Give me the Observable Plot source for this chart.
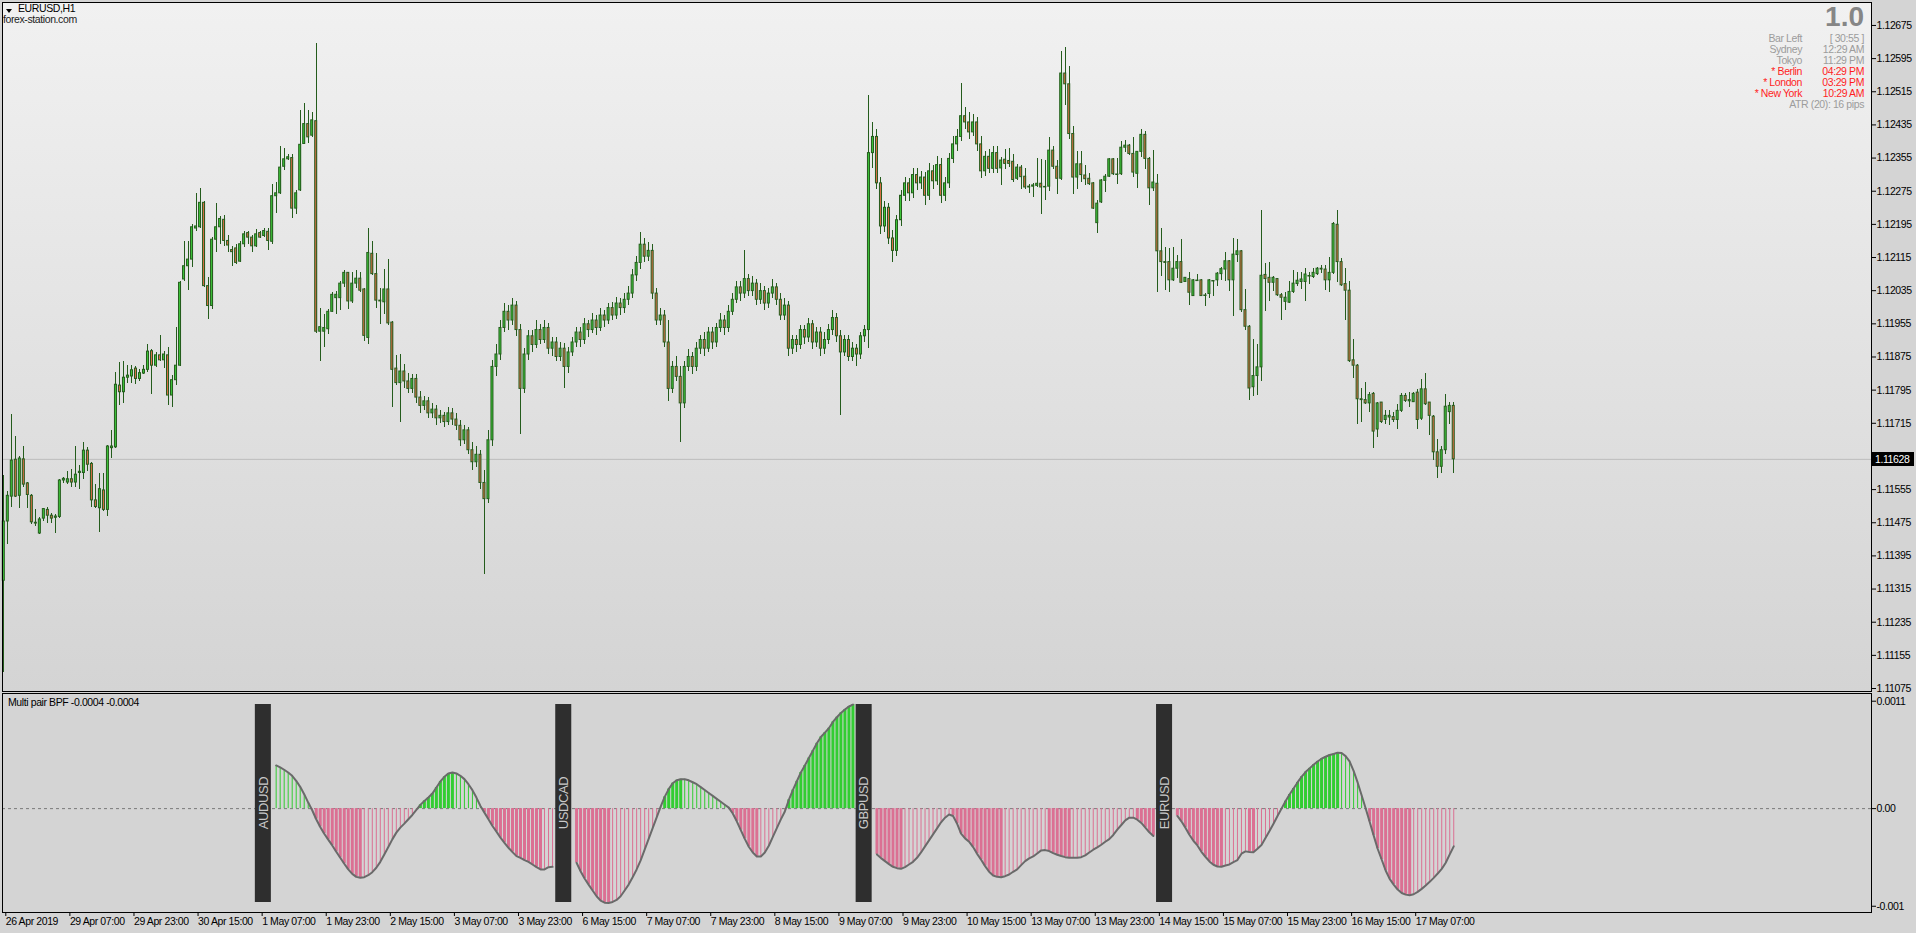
<!DOCTYPE html>
<html><head><meta charset="utf-8">
<script src="https://cdn.jsdelivr.net/npm/d3@7"></script>
<script src="https://cdn.jsdelivr.net/npm/@observablehq/plot@0.6"></script>
<style>
html,body{margin:0;padding:0;}
body{width:1916px;height:933px;overflow:hidden;position:relative;background:#d4d4d4;font-family:"Liberation Sans",Arial,sans-serif;}
#bg{position:absolute;left:2px;top:2px;width:1869px;height:689px;background:linear-gradient(to bottom,#f1f1f1,#d4d4d4);}
.ov{position:absolute;white-space:nowrap;line-height:1;font-size:10.5px;letter-spacing:-0.4px;}
#main,#sub{position:absolute;left:0;}
#main{top:0}#sub{top:692px}
.g{color:#9c9c9c}.r{color:#ff1e1e}
#tri{position:absolute;left:6px;top:9px;width:0;height:0;border-left:3px solid transparent;border-right:3px solid transparent;border-top:4px solid #000;}
</style></head><body>
<div id="bg"></div>
<div id="main"></div>
<div id="sub"></div>
<div id="tri"></div>
<script>
// ---------- time axis ----------
const timeTickBars = [0,16,32,48,64,80,96,112,128,144,160,176,192,208,224,240,256,272,288,304,320,336,352];
const timeTickLabels = ["26 Apr 2019","29 Apr 07:00","29 Apr 23:00","30 Apr 15:00","1 May 07:00","1 May 23:00","2 May 15:00","3 May 07:00","3 May 23:00","6 May 15:00","7 May 07:00","7 May 23:00","8 May 15:00","9 May 07:00","9 May 23:00","10 May 15:00","13 May 07:00","13 May 23:00","14 May 15:00","15 May 07:00","15 May 23:00","16 May 15:00","17 May 07:00"];
// ---------- price axis ----------
const priceTicks = [1.12675,1.12595,1.12515,1.12435,1.12355,1.12275,1.12195,1.12115,1.12035,1.11955,1.11875,1.11795,1.11715,1.11555,1.11475,1.11395,1.11315,1.11235,1.11155,1.11075];
const lastPrice = 1.11628;

// ---------- EURUSD H1 candles, bars 0..362 ----------
const open = [1.11335,1.11478,1.11538,1.11627,1.11540,1.11628,1.11570,1.11540,1.11475,1.11449,
1.11485,1.11506,1.11492,1.11487,1.11489,1.11577,1.11572,1.11580,1.11572,1.11595,
1.11595,1.11649,1.11617,1.11529,1.11510,1.11553,1.11506,1.11655,1.11657,1.11806,
1.11790,1.11825,1.11828,1.11847,1.11822,1.11835,1.11844,1.11889,1.11854,1.11879,
1.11867,1.11879,1.11782,1.11819,1.11854,1.12062,1.12094,1.12110,1.12185,1.12188,
1.12247,1.12046,1.11998,1.12158,1.12188,1.12206,1.12155,1.12133,1.12137,1.12105,
1.12147,1.12174,1.12163,1.12142,1.12174,1.12167,1.12177,1.12153,1.12263,1.12270,
1.12334,1.12352,1.12355,1.12233,1.12277,1.12389,1.12437,1.12409,1.12444,1.11936,
1.11936,1.11942,1.11984,1.12017,1.12017,1.12052,1.12078,1.12009,1.12052,1.12064,
1.12038,1.11921,1.12124,1.12075,1.12011,1.12007,1.12038,1.11958,1.11847,1.11812,
1.11840,1.11816,1.11798,1.11822,1.11777,1.11757,1.11768,1.11739,1.11748,1.11727,
1.11733,1.11718,1.11739,1.11724,1.11709,1.11674,1.11698,1.11650,1.11621,1.11639,
1.11571,1.11532,1.11674,1.11851,1.11881,1.11945,1.11984,1.11963,1.11999,1.11940,
1.11798,1.11881,1.11925,1.11904,1.11940,1.11916,1.11945,1.11895,1.11910,1.11875,
1.11895,1.11851,1.11886,1.11910,1.11934,1.11916,1.11954,1.11940,1.11963,1.11945,
1.11975,1.11963,1.11993,1.11975,1.12004,1.11993,1.12013,1.12028,1.12072,1.12102,
1.12146,1.12117,1.12131,1.12028,1.11963,1.11975,1.11910,1.11798,1.11851,1.11827,
1.11763,1.11851,1.11875,1.11851,1.11895,1.11916,1.11895,1.11934,1.11910,1.11945,
1.11963,1.11945,1.11984,1.12013,1.12043,1.12028,1.12063,1.12034,1.12052,1.12013,
1.12034,1.12004,1.12028,1.12043,1.12013,1.11975,1.11999,1.11895,1.11916,1.11904,
1.11940,1.11922,1.11954,1.11910,1.11934,1.11895,1.11916,1.11940,1.11969,1.11925,
1.11886,1.11916,1.11875,1.11895,1.11881,1.11925,1.11940,1.12367,1.12406,1.12294,
1.12190,1.12235,1.12161,1.12131,1.12205,1.12264,1.12294,1.12270,1.12314,1.12294,
1.12308,1.12264,1.12323,1.12299,1.12338,1.12264,1.12294,1.12353,1.12388,1.12406,
1.12456,1.12441,1.12417,1.12441,1.12388,1.12323,1.12358,1.12329,1.12367,1.12330,
1.12351,1.12348,1.12346,1.12305,1.12332,1.12310,1.12286,1.12286,1.12288,1.12293,
1.12285,1.12286,1.12373,1.12334,1.12305,1.12559,1.12533,1.12413,1.12308,1.12340,
1.12313,1.12305,1.12294,1.12198,1.12248,1.12300,1.12310,1.12352,1.12316,1.12316,
1.12380,1.12385,1.12365,1.12317,1.12370,1.12411,1.12353,1.12282,1.12293,1.12130,
1.12104,1.12104,1.12060,1.12088,1.12104,1.12056,1.12063,1.12022,1.12059,1.12060,
1.12023,1.12027,1.12059,1.12060,1.12075,1.12086,1.12106,1.12060,1.12121,1.12130,
1.11988,1.11948,1.11802,1.11829,1.11850,1.12073,1.12066,1.12054,1.12063,1.12024,
1.12008,1.12006,1.12032,1.12051,1.12056,1.12056,1.12070,1.12068,1.12075,1.12088,
1.12086,1.12060,1.12078,1.12194,1.12104,1.12051,1.12035,1.11867,1.11854,1.11773,
1.11771,1.11763,1.11786,1.11700,1.11765,1.11723,1.11729,1.11730,1.11723,1.11745,
1.11781,1.11768,1.11766,1.11789,1.11726,1.11797,1.11765,1.11731,1.11645,1.11610,
1.11650,1.11742,1.11757];
const high = [1.11588,1.11550,1.11737,1.11684,1.11636,1.11659,1.11572,1.11542,1.11508,1.11487,
1.11510,1.11513,1.11497,1.11495,1.11580,1.11585,1.11598,1.11604,1.11659,1.11614,
1.11668,1.11657,1.11620,1.11567,1.11593,1.11595,1.11662,1.11698,1.11838,1.11862,
1.11864,1.11854,1.11854,1.11851,1.11844,1.11854,1.11904,1.11892,1.11886,1.11926,
1.11889,1.11897,1.11830,1.11945,1.12057,1.12153,1.12153,1.12195,1.12270,1.12281,
1.12249,1.12067,1.12163,1.12245,1.12214,1.12217,1.12167,1.12142,1.12147,1.12153,
1.12177,1.12179,1.12169,1.12182,1.12179,1.12185,1.12185,1.12291,1.12297,1.12384,
1.12377,1.12363,1.12363,1.12277,1.12469,1.12486,1.12469,1.12465,1.12632,1.11993,
1.11977,1.11990,1.12030,1.12032,1.12057,1.12083,1.12080,1.12078,1.12083,1.12078,
1.12041,1.12185,1.12153,1.12124,1.12041,1.12086,1.12110,1.11961,1.11878,1.11881,
1.11857,1.11836,1.11833,1.11833,1.11792,1.11780,1.11777,1.11763,1.11757,1.11745,
1.11742,1.11754,1.11751,1.11739,1.11721,1.11709,1.11706,1.11668,1.11659,1.11650,
1.11600,1.11698,1.11866,1.11904,1.11963,1.12004,1.11999,1.12016,1.12010,1.11954,
1.11895,1.11940,1.11940,1.11963,1.11954,1.11963,1.11957,1.11922,1.11922,1.11910,
1.11907,1.11898,1.11922,1.11945,1.11945,1.11969,1.11963,1.11981,1.11975,1.11993,
1.11987,1.12004,1.12007,1.12019,1.12016,1.12028,1.12046,1.12087,1.12117,1.12176,
1.12161,1.12152,1.12146,1.12040,1.11993,1.11987,1.11963,1.11863,1.11875,1.11851,
1.11863,1.11892,1.11886,1.11910,1.11928,1.11934,1.11945,1.11945,1.11957,1.11981,
1.11975,1.11999,1.12028,1.12058,1.12058,1.12131,1.12075,1.12069,1.12063,1.12052,
1.12046,1.12040,1.12063,1.12052,1.12028,1.12016,1.12010,1.11928,1.11928,1.11951,
1.11951,1.11969,1.11963,1.11945,1.11945,1.11934,1.11954,1.11987,1.11981,1.11940,
1.11928,1.11928,1.11910,1.11904,1.11934,1.11951,1.12506,1.12441,1.12423,1.12308,
1.12249,1.12246,1.12181,1.12217,1.12276,1.12308,1.12305,1.12329,1.12329,1.12323,
1.12320,1.12341,1.12338,1.12358,1.12353,1.12308,1.12367,1.12406,1.12423,1.12535,
1.12476,1.12465,1.12459,1.12453,1.12406,1.12370,1.12376,1.12382,1.12382,1.12356,
1.12376,1.12378,1.12364,1.12340,1.12336,1.12330,1.12292,1.12294,1.12354,1.12352,
1.12349,1.12405,1.12384,1.12348,1.12611,1.12622,1.12575,1.12431,1.12372,1.12372,
1.12337,1.12317,1.12297,1.12252,1.12304,1.12316,1.12354,1.12354,1.12354,1.12396,
1.12397,1.12388,1.12404,1.12370,1.12425,1.12418,1.12356,1.12373,1.12316,1.12186,
1.12138,1.12136,1.12138,1.12120,1.12158,1.12068,1.12078,1.12062,1.12075,1.12062,
1.12027,1.12062,1.12060,1.12080,1.12092,1.12126,1.12108,1.12160,1.12158,1.12132,
1.12038,1.11952,1.11918,1.11906,1.12229,1.12100,1.12104,1.12070,1.12064,1.12028,
1.12030,1.12056,1.12083,1.12080,1.12078,1.12088,1.12080,1.12088,1.12092,1.12096,
1.12096,1.12114,1.12200,1.12229,1.12112,1.12088,1.12056,1.11918,1.11857,1.11798,
1.11813,1.11790,1.11789,1.11766,1.11766,1.11745,1.11745,1.11741,1.11761,1.11787,
1.11787,1.11789,1.11789,1.11797,1.11821,1.11835,1.11766,1.11735,1.11675,1.11660,
1.11785,1.11766,1.11765];
const low = [1.11113,1.11423,1.11513,1.11535,1.11510,1.11561,1.11510,1.11471,1.11467,1.11446,
1.11478,1.11474,1.11474,1.11449,1.11485,1.11570,1.11567,1.11561,1.11559,1.11556,
1.11580,1.11598,1.11513,1.11510,1.11452,1.11503,1.11489,1.11630,1.11655,1.11758,
1.11762,1.11812,1.11812,1.11808,1.11817,1.11832,1.11838,1.11785,1.11849,1.11865,
1.11847,1.11758,1.11753,1.11806,1.11851,1.12057,1.12035,1.12092,1.12179,1.12185,
1.12043,1.11966,1.11990,1.12126,1.12147,1.12142,1.12128,1.12094,1.12098,1.12103,
1.12139,1.12147,1.12128,1.12139,1.12161,1.12163,1.12131,1.12147,1.12222,1.12268,
1.12326,1.12350,1.12208,1.12220,1.12275,1.12387,1.12389,1.12405,1.11932,1.11865,
1.11897,1.11929,1.11982,1.11977,1.11988,1.12043,1.11990,1.12004,1.12041,1.12030,
1.11913,1.11904,1.12071,1.11993,1.11953,1.11977,1.11950,1.11753,1.11806,1.11716,
1.11798,1.11786,1.11786,1.11763,1.11739,1.11745,1.11727,1.11727,1.11709,1.11715,
1.11704,1.11709,1.11709,1.11698,1.11659,1.11665,1.11639,1.11600,1.11609,1.11556,
1.11350,1.11521,1.11659,1.11827,1.11866,1.11934,1.11940,1.11951,1.11925,1.11689,
1.11786,1.11866,1.11886,1.11895,1.11904,1.11907,1.11881,1.11875,1.11863,1.11863,
1.11798,1.11836,1.11875,1.11898,1.11898,1.11904,1.11922,1.11931,1.11928,1.11937,
1.11945,1.11954,1.11963,1.11966,1.11975,1.11981,1.11999,1.12016,1.12058,1.12087,
1.12102,1.12105,1.12013,1.11951,1.11951,1.11898,1.11768,1.11786,1.11816,1.11668,
1.11751,1.11839,1.11833,1.11839,1.11881,1.11875,1.11886,1.11892,1.11898,1.11934,
1.11928,1.11934,1.11975,1.12004,1.12010,1.12016,1.12022,1.12022,1.11999,1.12001,
1.11987,1.11993,1.12016,1.11999,1.11963,1.11963,1.11875,1.11881,1.11886,1.11892,
1.11904,1.11910,1.11892,1.11898,1.11875,1.11881,1.11904,1.11928,1.11910,1.11733,
1.11875,1.11863,1.11863,1.11851,1.11869,1.11910,1.11895,1.12329,1.12279,1.12170,
1.12176,1.12146,1.12102,1.12117,1.12190,1.12249,1.12249,1.12258,1.12276,1.12279,
1.12240,1.12252,1.12279,1.12288,1.12246,1.12249,1.12282,1.12341,1.12370,1.12394,
1.12423,1.12400,1.12406,1.12370,1.12305,1.12311,1.12317,1.12317,1.12317,1.12288,
1.12328,1.12332,1.12297,1.12301,1.12278,1.12280,1.12269,1.12260,1.12284,1.12218,
1.12252,1.12274,1.12328,1.12268,1.12300,1.12483,1.12400,1.12266,1.12280,1.12296,
1.12288,1.12288,1.12230,1.12172,1.12245,1.12272,1.12308,1.12314,1.12292,1.12314,
1.12368,1.12362,1.12309,1.12281,1.12356,1.12328,1.12240,1.12274,1.12030,1.12070,
1.12036,1.12030,1.12056,1.12064,1.12052,1.12054,1.12000,1.12020,1.12056,1.12020,
1.11998,1.12016,1.12020,1.12046,1.12060,1.12056,1.12034,1.11972,1.12104,1.11982,
1.11939,1.11770,1.11779,1.11782,1.11817,1.11984,1.12008,1.12032,1.12020,1.11964,
1.11986,1.12004,1.12028,1.12044,1.12038,1.12008,1.12051,1.12064,1.12072,1.12076,
1.12036,1.12030,1.12075,1.12054,1.12044,1.11964,1.11861,1.11822,1.11713,1.11718,
1.11761,1.11741,1.11655,1.11680,1.11715,1.11713,1.11709,1.11718,1.11701,1.11742,
1.11766,1.11753,1.11765,1.11699,1.11721,1.11759,1.11685,1.11625,1.11581,1.11595,
1.11640,1.11713,1.11595];
const close = [1.11478,1.11540,1.11625,1.11538,1.11630,1.11567,1.11542,1.11476,1.11473,1.11483,
1.11508,1.11492,1.11485,1.11490,1.11577,1.11581,1.11580,1.11572,1.11591,1.11598,
1.11649,1.11615,1.11529,1.11513,1.11556,1.11506,1.11659,1.11659,1.11808,1.11790,
1.11825,1.11830,1.11843,1.11822,1.11836,1.11844,1.11888,1.11854,1.11879,1.11867,
1.11881,1.11782,1.11819,1.11854,1.12054,1.12094,1.12110,1.12188,1.12190,1.12247,
1.12046,1.11998,1.12158,1.12188,1.12208,1.12155,1.12144,1.12128,1.12102,1.12147,
1.12171,1.12163,1.12142,1.12171,1.12163,1.12179,1.12155,1.12263,1.12270,1.12332,
1.12352,1.12357,1.12233,1.12270,1.12387,1.12437,1.12405,1.12446,1.11936,1.11947,
1.11945,1.11984,1.12025,1.12025,1.12052,1.12078,1.12009,1.12052,1.12064,1.12035,
1.11926,1.12126,1.12075,1.12011,1.12009,1.12038,1.11956,1.11844,1.11812,1.11840,
1.11816,1.11798,1.11822,1.11777,1.11757,1.11768,1.11739,1.11748,1.11727,1.11733,
1.11718,1.11739,1.11724,1.11709,1.11674,1.11698,1.11650,1.11621,1.11639,1.11571,
1.11532,1.11674,1.11851,1.11881,1.11945,1.11984,1.11963,1.11999,1.11940,1.11798,
1.11881,1.11925,1.11904,1.11940,1.11916,1.11945,1.11895,1.11910,1.11875,1.11895,
1.11851,1.11886,1.11910,1.11934,1.11916,1.11954,1.11940,1.11963,1.11945,1.11975,
1.11963,1.11993,1.11975,1.12004,1.11993,1.12013,1.12028,1.12072,1.12102,1.12146,
1.12117,1.12131,1.12028,1.11963,1.11975,1.11910,1.11798,1.11851,1.11827,1.11763,
1.11851,1.11875,1.11851,1.11895,1.11916,1.11895,1.11934,1.11910,1.11945,1.11963,
1.11945,1.11984,1.12013,1.12043,1.12028,1.12063,1.12034,1.12052,1.12013,1.12034,
1.12004,1.12028,1.12043,1.12013,1.11975,1.11999,1.11895,1.11916,1.11904,1.11940,
1.11922,1.11954,1.11910,1.11934,1.11895,1.11916,1.11940,1.11969,1.11925,1.11886,
1.11916,1.11875,1.11895,1.11881,1.11925,1.11940,1.12367,1.12406,1.12294,1.12190,
1.12235,1.12161,1.12131,1.12205,1.12264,1.12294,1.12270,1.12314,1.12294,1.12308,
1.12264,1.12323,1.12299,1.12338,1.12264,1.12294,1.12353,1.12388,1.12406,1.12456,
1.12441,1.12417,1.12441,1.12388,1.12323,1.12358,1.12329,1.12367,1.12329,1.12349,
1.12341,1.12341,1.12302,1.12332,1.12309,1.12284,1.12284,1.12289,1.12293,1.12284,
1.12286,1.12373,1.12334,1.12305,1.12559,1.12533,1.12413,1.12308,1.12340,1.12314,
1.12304,1.12292,1.12233,1.12245,1.12301,1.12310,1.12352,1.12316,1.12316,1.12380,
1.12385,1.12365,1.12320,1.12370,1.12411,1.12353,1.12282,1.12296,1.12130,1.12104,
1.12102,1.12060,1.12088,1.12104,1.12054,1.12066,1.12030,1.12060,1.12060,1.12022,
1.12024,1.12060,1.12059,1.12076,1.12087,1.12106,1.12060,1.12122,1.12130,1.11988,
1.11948,1.11799,1.11829,1.11850,1.12071,1.12063,1.12054,1.12066,1.12024,1.12018,
1.12018,1.12032,1.12052,1.12059,1.12062,1.12074,1.12071,1.12078,1.12088,1.12086,
1.12060,1.12078,1.12196,1.12104,1.12048,1.12035,1.11865,1.11854,1.11773,1.11771,
1.11763,1.11783,1.11695,1.11763,1.11718,1.11733,1.11733,1.11723,1.11745,1.11781,
1.11769,1.11771,1.11786,1.11723,1.11797,1.11761,1.11733,1.11645,1.11610,1.11650,
1.11755,1.11757,1.11628];

// ---------- Multi pair BPF (units of 0.0001) ----------
const pairNames = ["AUDUSD","USDCAD","GBPUSD","EURUSD"];
const pairLabelBar = [64.8,139.8,214.8,289.8];
const pairFirstBar = [68,143,218,293];
const bpfAUDUSD = [4.42,4.22,3.98,3.70,3.36,2.85,2.23,1.48,0.62,-0.17,
-1.09,-1.88,-2.57,-3.18,-3.77,-4.42,-5.04,-5.65,-6.23,-6.68,
-6.99,-7.09,-7.02,-6.82,-6.51,-6.06,-5.45,-4.69,-3.94,-3.15,
-2.46,-1.95,-1.54,-1.09,-0.65,-0.14,0.38,0.79,1.13,1.54,
2.16,2.78,3.26,3.60,3.70,3.60,3.36,3.02,2.50,1.89,
1.13,0.27,-0.41,-1.09,-1.78,-2.36,-2.98,-3.50,-4.01,-4.46,
-4.87,-5.04,-5.28,-5.45,-5.72,-6.00,-6.23,-6.23,-6.00,-5.96];
const bpfUSDCAD = [-5.55,-6.41,-7.16,-7.78,-8.39,-8.98,-9.42,-9.63,-9.66,-9.56,
-9.35,-8.98,-8.39,-7.78,-7.02,-6.23,-5.31,-4.2,-3.1,-2.0,
-0.9,0.2,1.2,2.0,2.6,2.9,3.0,3.0,2.9,2.7,
2.5,2.2,1.9,1.6,1.3,1.0,0.7,0.4,0.1,-0.5,
-1.3,-2.2,-3.1,-3.9,-4.5,-4.9,-4.9,-4.5,-3.8,-2.9,
-2.0,-1.1,-0.3,0.9,1.9,2.8,3.70,4.42,5.18,5.93,
6.69,7.34,7.78,8.23,8.88,9.36,9.80,10.15,10.46,10.66];
const bpfGBPUSD = [-4.69,-5.07,-5.38,-5.69,-5.96,-6.10,-6.17,-5.99,-5.72,-5.45,
-5.04,-4.49,-3.87,-3.25,-2.64,-2.02,-1.40,-0.93,-0.61,-0.75,
-1.54,-2.57,-3.05,-3.39,-3.94,-4.63,-5.24,-5.89,-6.47,-6.85,
-6.99,-7.02,-6.92,-6.75,-6.47,-6.23,-5.79,-5.38,-5.10,-4.90,
-4.59,-4.28,-4.25,-4.35,-4.56,-4.73,-4.86,-4.97,-5.04,-5.04,
-5.04,-4.97,-4.79,-4.49,-4.21,-3.97,-3.70,-3.39,-3.12,-2.70,
-2.16,-1.68,-1.20,-0.93,-0.93,-1.13,-1.47,-1.95,-2.43,-2.81];
const bpfEURUSD = [-0.75,-1.30,-1.95,-2.67,-3.29,-3.77,-4.42,-4.93,-5.41,-5.75,
-5.93,-5.96,-5.82,-5.72,-5.48,-5.27,-4.62,-4.38,-4.44,-4.47,
-4.12,-3.73,-3.01,-2.29,-1.54,-0.75,0.00,0.76,1.44,2.06,
2.68,3.26,3.74,4.12,4.49,4.83,5.11,5.31,5.49,5.59,
5.73,5.69,5.38,4.83,3.87,2.68,1.37,0.03,-1.34,-2.74,
-4.11,-5.21,-6.34,-7.19,-7.78,-8.29,-8.64,-8.81,-8.87,-8.77,
-8.53,-8.22,-7.88,-7.50,-7.09,-6.65,-6.17,-5.55,-4.69,-3.87];
const subTicks = [0.0011, 0, -0.001];
const subTickLabels = ["0.0011","0.00","-0.001"];

// ---------- colours ----------
const WICK = "#245c1c", BULL = "#3ec43a", BEAR = "#dc6f47";
const POS = "#32CD32", NEG = "#DB7093";

// ---------- build tables ----------
const candles = open.map((o,i)=>({i, o, h:high[i], l:low[i], c:close[i]}));
const bulls = candles.filter(d=>d.c>d.o+0.000015);
const bears = candles.filter(d=>d.o>d.c+0.000015);
const dojis = candles.filter(d=>Math.abs(d.c-d.o)<=0.000015);

const bpfSeries = [bpfAUDUSD,bpfUSDCAD,bpfGBPUSD,bpfEURUSD];
const bpf = [];
bpfSeries.forEach((arr,p)=>{
  arr.forEach((v,k)=>{
    const thick = k>0 ? Math.abs(v) > Math.abs(arr[k-1]) : Math.abs(arr[1]) > Math.abs(arr[0]);
    bpf.push({pair:pairNames[p], i:pairFirstBar[p]+k, v:v*1e-4, thick});
  });
});
const pairs = pairNames.map((n,p)=>({name:n, c:pairLabelBar[p]}));
const labelMap = new Map(timeTickBars.map((b,k)=>[b,timeTickLabels[k]]));

const xDomain = [-0.325, 466.3];
const FONT = '"Liberation Sans",Arial,sans-serif';
const axisStyle = {background:"transparent", fontFamily:FONT, fontSize:"10.5px", letterSpacing:"-0.4px", color:"black", overflow:"visible"};

const main = Plot.plot({
  width:1916, height:692, marginLeft:2, marginRight:45, marginTop:2, marginBottom:1,
  x:{domain:xDomain, axis:null},
  y:{domain:[1.110678,1.127304], axis:null},
  style:axisStyle,
  marks:[
    Plot.ruleY([lastPrice],{stroke:"#bcbcbc"}),
    Plot.ruleX(candles,{x:"i", y1:"l", y2:"h", stroke:WICK, strokeWidth:1, shapeRendering:"crispEdges"}),
    Plot.rect(bulls,{x1:d=>d.i-0.25, x2:d=>d.i+0.25, y1:"o", y2:"c", fill:BULL, stroke:WICK, strokeWidth:1}),
    Plot.rect(bears,{x1:d=>d.i-0.25, x2:d=>d.i+0.25, y1:"o", y2:"c", fill:BEAR, stroke:WICK, strokeWidth:1}),
    Plot.ruleY(dojis,{y:"c", x1:d=>d.i-0.4, x2:d=>d.i+0.4, stroke:WICK, strokeWidth:1.5}),
    Plot.axisY(priceTicks,{anchor:"right", tickSize:4, tickPadding:1, label:null, tickFormat:d=>d.toFixed(5), stroke:"black", fill:"black"}),
    Plot.frame({stroke:"black"})
  ]
});
document.getElementById("main").appendChild(main);

const sub = Plot.plot({
  width:1916, height:241, marginLeft:2, marginRight:45, marginTop:1, marginBottom:21,
  x:{domain:xDomain, axis:null},
  y:{domain:[-0.001064,0.001179], axis:null},
  color:{domain:["pos","neg"], range:[POS,NEG]},
  style:axisStyle,
  marks:[
    Plot.ruleY([0],{stroke:"#7a7a7a", strokeDasharray:"3,3"}),
    Plot.ruleX(bpf.filter(d=>!d.thick),{x:"i", y1:0, y2:"v", stroke:d=>d.v>=0?"pos":"neg", strokeWidth:1}),
    Plot.ruleX(bpf.filter(d=>d.thick),{x:"i", y1:0, y2:"v", stroke:d=>d.v>=0?"pos":"neg", strokeWidth:3}),
    Plot.line(bpf,{x:"i", y:"v", z:"pair", stroke:"#6a6a6a", strokeWidth:2}),
    Plot.rect(pairs,{x1:d=>d.c-2, x2:d=>d.c+2, fill:"#2e2e2e", insetTop:11, insetBottom:10}),
    Plot.text(pairs,{x:"c", text:"name", rotate:-90, frameAnchor:"middle", fill:"#c9c9c9", fontSize:13, fontFamily:FONT, letterSpacing:"0px"}),
    Plot.axisX(timeTickBars,{anchor:"bottom", tickSize:4, tickPadding:1, label:null, tickFormat:d=>labelMap.get(d), textAnchor:"start", dx:2}),
    Plot.axisY(subTicks,{anchor:"right", tickSize:4, tickPadding:1, label:null, tickFormat:(d)=>subTickLabels[subTicks.indexOf(d)]}),
    Plot.frame({stroke:"black"})
  ]
});
document.getElementById("sub").appendChild(sub);

// ---------- overlays (titles / info panel) ----------
function ov(html, css){const d=document.createElement("div");d.className="ov";d.style.cssText=css;d.innerHTML=html;document.body.appendChild(d);return d;}
ov("EURUSD,H1","left:18px;top:3px;");
ov("forex-station.com","left:3px;top:14px;color:#1c1c1c;");
ov("1.0","right:52px;top:3px;font-size:28px;font-weight:bold;letter-spacing:0;color:#868686;");
const rowsL = ["Bar Left","Sydney","Tokyo","* Berlin","* London","* New York"];
const rowsR = ["[ 30:55 ]","12:29 AM","11:29 PM","04:29 PM","03:29 PM","10:29 AM"];
const rowTop = [33,44,55,66,77,88];
rowsL.forEach((t,k)=>{const cls=k>=3?"r":"g";ov(`<span class="${cls}">${t}</span>`,`right:114px;top:${rowTop[k]}px;`);ov(`<span class="${cls}">${rowsR[k]}</span>`,`right:52px;top:${rowTop[k]}px;`);});
ov('<span class="g">ATR (20): 16 pips</span>',"right:52px;top:99px;");
ov("Multi pair BPF -0.0004 -0.0004","left:8px;top:697px;");
const yPx = main.scale("y").apply(lastPrice);
ov(lastPrice.toFixed(5),`left:1872px;top:${yPx-7}px;height:14px;line-height:14px;width:42px;padding-left:3px;box-sizing:border-box;background:#000;color:#fff;`);
</script>
</body></html>
